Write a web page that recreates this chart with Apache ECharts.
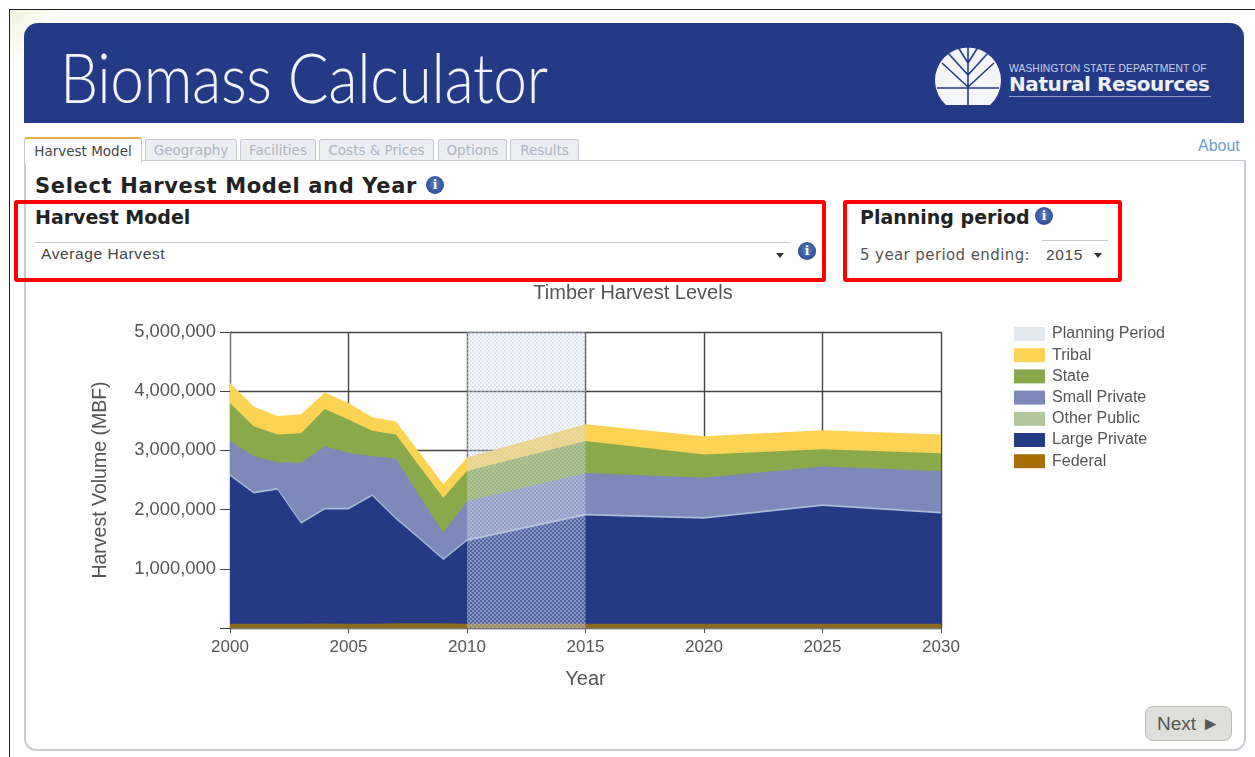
<!DOCTYPE html>
<html>
<head>
<meta charset="utf-8">
<title>Biomass Calculator</title>
<script src="https://cdn.jsdelivr.net/npm/echarts@6/dist/echarts.min.js"></script>
<style>
html, body { margin: 0; padding: 0; background: #fff; overflow: hidden; }
#page { position: absolute; left: 0; top: 0; width: 1255px; height: 757px; overflow: hidden; font-family: "DejaVu Sans", sans-serif; filter: blur(0.7px); }
#page div, #page svg { position: absolute; white-space: nowrap; }
.frame { left: 9px; top: 9px; width: 1246px; height: 748px; border-left: 1px solid #222; border-top: 1px solid #222; background: linear-gradient(135deg, #eef3dc 0, #fff 3%); }
.banner { left: 24px; top: 23px; width: 1220px; height: 100px; background: #233a86; border-radius: 14px 14px 0 0; }
.brand { left: 60px; top: 33px; font: 300 68px/88px Lato, sans-serif; color: #f2f5fa; letter-spacing: -0.4px; transform: scaleX(0.89); transform-origin: left center; }
.dept { left: 1009px; top: 63px; font: 10.3px/12px "Liberation Sans", sans-serif; color: #c8d0e6; letter-spacing: .1px; }
.nr { left: 1009px; top: 71px; font: bold 20px/26px "DejaVu Sans", sans-serif; color: #eef1f8; letter-spacing: -0.4px; }
.nrline { left: 1009px; top: 96px; width: 202px; height: 1px; background: #8f9ccb; }
.panel { left: 24px; top: 160px; width: 1218px; height: 588px; border: 2px solid #c9ccd4; border-top: 1px solid #c9ccd4; border-radius: 0 0 12px 12px; background: #fff; }
.tab { top: 139px; height: 20px; font-size: 13.5px; line-height: 21px; text-align: center; color: #aeb3c4; background: #eceef3; border: 1px solid #c6c9d3; border-bottom: 0; border-radius: 3px 3px 0 0; }
.tab.on { left: 24px; top: 137px; width: 116px; height: 24px; line-height: 25px; color: #444; background: #fff; border-top: 2px solid #e2ad4a; border-color: #e2ad4a #c9ccd4 #fff; }
.about { left: 1198px; top: 136px; font: 16px/20px "Liberation Sans", sans-serif; color: #6d9ec6; }
.h1 { left: 35px; top: 172px; font: bold 21px/28px "DejaVu Sans", sans-serif; color: #222; letter-spacing: .65px; }
.h2 { top: 204px; font: bold 19px/26px "DejaVu Sans", sans-serif; color: #222; }
.redbox { top: 200px; height: 74px; border: 4px solid #f00; border-radius: 3px; }
.txt { font: 15.5px/18px "Liberation Sans", sans-serif; color: #444; letter-spacing: .6px; }
.txt2 { font: 15px/18px "DejaVu Sans", sans-serif; color: #555; letter-spacing: .4px; }
.rule { height: 1px; background: #c8c8c8; }
.arrow { width: 0; height: 0; border-left: 4px solid transparent; border-right: 4px solid transparent; border-top: 5px solid #333; }
.info { width: 18px; height: 18px; border-radius: 50%; background: radial-gradient(circle at 50% 45%, #5f7fc0, #2f4d9b 70%, #a9b6da); color: #fff; font: bold 12px/18px "DejaVu Serif", serif; text-align: center; }
.next { left: 1145px; top: 706px; width: 85px; height: 33px; border: 1px solid #b9b9b4; border-radius: 8px; background: #dedfda; font: 19px/34px "Liberation Sans", sans-serif; color: #555; text-align: center; }
#chart { position: absolute !important; left: 0; top: 0; width: 1255px; height: 757px; }
</style>
</head>
<body>
<div id="page">
  <div class="frame"></div>
  <div class="banner"></div>
  <div class="brand">Biomass Calculator</div>
  <svg style="left:934px;top:41px" width="68" height="68" viewBox="0 0 68 68">
    <path d="M12 64 A33 33 0 1 1 56 64 Z" fill="#f4f6fa"/>
    <path d="M34 2V64M3 47H65M34 46L8 22M34 46L60 22M34 34L14 12M34 34L54 12M34 22L24 6M34 22L44 6" stroke="#233a86" stroke-width="1.6" fill="none"/>
  </svg>
  <div class="dept">WASHINGTON STATE DEPARTMENT OF</div>
  <div class="nr">Natural Resources</div>
  <div class="nrline"></div>

  <div class="panel"></div>
  <div class="tab on">Harvest Model</div>
  <div class="tab" style="left:145px;width:90px">Geography</div>
  <div class="tab" style="left:240px;width:74px">Facilities</div>
  <div class="tab" style="left:319px;width:113px">Costs &amp; Prices</div>
  <div class="tab" style="left:438px;width:67px">Options</div>
  <div class="tab" style="left:510px;width:67px">Results</div>
  <div class="about">About</div>

  <div class="h1">Select Harvest Model and Year</div>
  <div class="info" style="left:426px;top:176px">i</div>

  <div class="redbox" style="left:14px;width:804px"></div>
  <div class="redbox" style="left:843px;width:271px"></div>
  <div class="h2" style="left:35px">Harvest Model</div>
  <div class="rule" style="left:35px;top:242px;width:755px"></div>
  <div class="txt" style="left:41px;top:245px">Average Harvest</div>
  <div class="arrow" style="left:776px;top:253px"></div>
  <div class="info" style="left:798px;top:242px">i</div>
  <div class="h2" style="left:860px">Planning period</div>
  <div class="info" style="left:1035px;top:207px">i</div>
  <div class="txt2" style="left:860px;top:246px">5 year period ending:</div>
  <div class="rule" style="left:1042px;top:240px;width:66px"></div>
  <div class="txt" style="left:1046px;top:246px">2015</div>
  <div class="arrow" style="left:1094px;top:253px"></div>
  <div class="next">Next ►</div>
  <div id="chart"></div>
</div>

<script>
// values, MBF per band (bottom to top)
const years = [2000, 2001, 2002, 2003, 2004, 2005, 2006, 2007, 2008, 2009, 2010, 2015, 2020, 2025, 2030]
const federal = [70000, 70000, 70000, 70000, 75000, 70000, 70000, 80000, 80000, 80000, 70000, 70000, 70000, 70000, 70000]
const largePrivate = [2496000, 2200000, 2265000, 1690000, 1925000, 1930000, 2160000, 1755000, 1420000, 1070000, 1400000, 1830000, 1775000, 1990000, 1865000]
const otherPublic = [30000, 30000, 30000, 30000, 30000, 30000, 30000, 30000, 30000, 30000, 30000, 30000, 30000, 30000, 30000]
const smallPrivate = [561000, 600000, 435000, 1000000, 1040000, 930000, 640000, 995000, 700000, 430000, 640000, 690000, 665000, 640000, 685000]
const state = [643000, 510000, 470000, 500000, 630000, 560000, 430000, 410000, 500000, 590000, 510000, 537000, 390000, 290000, 300000]
const tribal = [340000, 330000, 310000, 320000, 280000, 280000, 230000, 220000, 230000, 230000, 230000, 283000, 310000, 320000, 320000]
const planningYears = [2010, 2015]
const planningTop = [5000000, 5000000]
const legendNames = ['Planning Period', 'Tribal', 'State', 'Small Private', 'Other Public', 'Large Private', 'Federal']

// dotted overlay of the planning period
const makeDots = () => {
  const c = document.createElement('canvas')
  c.width = 4
  c.height = 4
  const ctx = c.getContext('2d')
  ctx.fillStyle = 'rgba(200,210,230,0.6)'
  ctx.fillRect(2, 0, 2, 2)
  ctx.fillRect(0, 2, 2, 2)
  ctx.fillStyle = 'rgba(225,232,242,0.25)'
  ctx.fillRect(0, 0, 2, 2)
  ctx.fillRect(2, 2, 2, 2)
  return c
}

// value axis with uneven years: bands are summed here and drawn tallest first
const bands = [
  { name: 'Federal', values: federal, color: '#a86f08', area: '#8b6a22' },
  { name: 'Large Private', values: largePrivate, color: '#243a85' },
  { name: 'Other Public', values: otherPublic, color: '#b2c69c', area: '#a9bdd6' },
  { name: 'Small Private', values: smallPrivate, color: '#7c89b9' },
  { name: 'State', values: state, color: '#8aa94a' },
  { name: 'Tribal', values: tribal, color: '#fdd353' }
]
const running = years.map(() => 0)
const bandSeries = bands.map((b) => {
  b.values.forEach((v, i) => { running[i] += v })
  return {
    name: b.name,
    type: 'line',
    symbol: 'none',
    lineStyle: { width: 0 },
    itemStyle: { color: b.color },
    areaStyle: { color: b.area || b.color, opacity: 1 },
    data: running.map((v, i) => [years[i], v])
  }
}).reverse()

const labelColor = '#555'
const myChart = echarts.init(document.getElementById('chart'))

myChart.setOption({
  animation: false,
  backgroundColor: 'transparent',
  title: {
    text: 'Timber Harvest Levels',
    left: 633,
    top: 283,
    padding: 0,
    textAlign: 'center',
    textStyle: { fontFamily: 'Liberation Sans', fontSize: 20, fontWeight: 'normal', color: labelColor }
  },
  grid: { left: 230, top: 332, width: 711, height: 296 },
  legend: {
    data: legendNames,
    orient: 'vertical',
    left: 1014,
    top: 326,
    padding: 0,
    icon: 'rect',
    itemWidth: 31,
    itemHeight: 14,
    itemGap: 5.2,
    selectedMode: false,
    textStyle: { fontFamily: 'Liberation Sans', fontSize: 16, color: labelColor, padding: [0, 0, 0, 2] }
  },
  xAxis: {
    type: 'value',
    min: 2000,
    max: 2030,
    interval: 5,
    name: 'Year',
    nameLocation: 'middle',
    nameGap: 41,
    nameTextStyle: { fontFamily: 'Liberation Sans', fontSize: 20, color: labelColor },
    axisLine: { show: true, onZero: false, lineStyle: { color: '#777' } },
    axisTick: { show: true, length: 5, lineStyle: { color: '#555' } },
    axisLabel: { fontFamily: 'Liberation Sans', fontSize: 17, color: labelColor, margin: 11, formatter: (v) => String(v) },
    splitLine: { show: true, lineStyle: { color: '#444', width: 1.4 } }
  },
  yAxis: {
    type: 'value',
    min: 0,
    max: 5000000,
    interval: 1000000,
    name: 'Harvest Volume (MBF)',
    nameLocation: 'middle',
    nameGap: 119,
    nameTextStyle: { fontFamily: 'Liberation Sans', fontSize: 19.5, color: labelColor },
    axisLine: { show: true, lineStyle: { color: '#777' } },
    axisTick: { show: true, length: 10, lineStyle: { color: '#444' } },
    axisLabel: {
      fontFamily: 'Liberation Sans',
      fontSize: 18.4,
      color: labelColor,
      margin: 14,
      formatter: (v) => (v === 0 ? '' : v.toLocaleString('en-US'))
    },
    splitLine: { show: true, lineStyle: { color: '#444', width: 1.4 } }
  },
  series: [
    ...bandSeries,
    {
      name: 'Planning Period',
      type: 'line',
      symbol: 'none',
      z: 5,
      lineStyle: { width: 0 },
      itemStyle: { color: '#e3e9ee' },
      areaStyle: { color: { image: makeDots(), repeat: 'repeat' }, opacity: 1 },
      data: planningYears.map((y, i) => [y, planningTop[i]])
    }
  ]
})
</script>
</body>
</html>
